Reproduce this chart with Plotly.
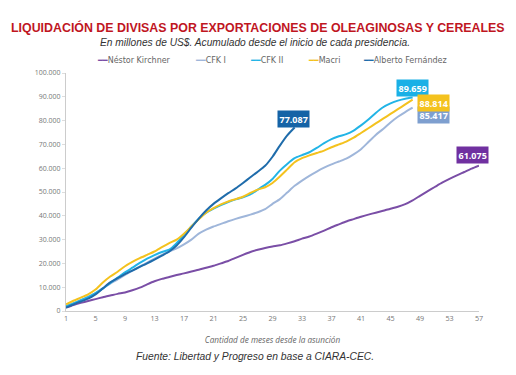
import plotly.graph_objects as go

# Accumulated FX liquidation (millions of US$) by month since inauguration
nestor = [1400, 2500, 3400, 4200, 5000, 5800, 6500, 7200, 7800, 8700, 9800, 11200, 12500, 13500,
          14300, 15100, 15800, 16600, 17300, 18200, 19000, 20000, 21000, 22300, 23600, 24800, 25700,
          26500, 27100, 27600, 28400, 29300, 30400, 31300, 32500, 33800, 35200, 36400, 37600, 38600,
          39600, 40500, 41300, 42100, 43000, 43800, 44900, 46500, 48400, 50300, 52100, 53900, 55500,
          57000, 58400, 59800, 61075]
cfk1 = [2000, 3300, 4500, 6000, 7500, 9500, 11500, 13300, 15200, 17000, 18700, 20300, 22000, 23600,
        25000, 26300, 28000, 30000, 32500, 34200, 35500, 36600, 37700, 38700, 39600, 40500, 41500,
        42800, 45000, 47000, 49800, 52600, 54800, 56800, 58600, 60200, 61600, 62800, 64000, 65800,
        68000, 71000, 74000, 76500, 79200, 81600, 83600, 85417]
cfk2 = [2000, 3200, 4500, 5800, 7500, 9500, 11800, 14000, 16200, 18200, 20200, 22000, 23500, 24800,
        25800, 28500, 32000, 35500, 38800, 41300, 43000, 44500, 45800, 46900, 47800, 49000, 51000,
        53000, 55500, 59000, 61800, 64200, 65500, 66700, 68500, 70500, 72200, 73400, 74300, 75800,
        78000, 80500, 83200, 85600, 87200, 88400, 89200, 89659]
macri = [2800, 4300, 5600, 7000, 9000, 12000, 14500, 16500, 18800, 20600, 22200, 23600, 25000, 26800,
         28500, 30000, 32500, 35500, 38500, 41300, 43200, 44800, 46000, 47000, 48000, 49600, 51000,
         52000, 53800, 56500, 59500, 62500, 64200, 65400, 66400, 67400, 68800, 70000, 71200, 72800,
         74800, 76800, 78800, 80800, 82800, 84800, 86800, 88814]
alberto = [1400, 2800, 4000, 5200, 7000, 9500, 12000, 13800, 15500, 17000, 18500, 20000, 21600, 23300,
           25000, 27500, 31000, 35000, 38800, 42200, 45000, 47300, 49500, 51500, 53800, 56200, 58500,
           61000, 64800, 69500, 73800, 77087]

series_names = ["Néstor Kirchner", "CFK I", "CFK II", "Macri", "Alberto Fernández"]
series_values = [nestor, cfk1, cfk2, macri, alberto]
line_colors = ["#7a4ea6", "#9fb6da", "#22b4e6", "#f4c21e", "#1f6cab"]
label_colors = ["#7030a0", "#7e9fcf", "#1ab0e6", "#f4c21e", "#1563a6"]
label_shift = [(-7, 11), (21, -7), (0, 10), (21, -3), (-1, 9)]
legend_x = [0.07, 0.307, 0.44, 0.581, 0.714]

x_ticks = list(range(1, 58, 4))
y_ticks = list(range(0, 100001, 10000))

fig = go.Figure()
for name, vals, col in zip(series_names, series_values, line_colors):
    fig.add_trace(go.Scatter(
        x=list(range(1, len(vals) + 1)), y=vals, mode="lines", name=name,
        line=dict(color=col, width=2, shape="spline", smoothing=0.6),
        hoverinfo="skip", showlegend=False))

annotations = []
for vals, col, (dx, dy) in zip(series_values, label_colors, label_shift):
    annotations.append(dict(
        x=len(vals), y=vals[-1], xref="x", yref="y",
        text="<b>" + f"{vals[-1]:,}".replace(",", ".") + "</b>",
        showarrow=False, bgcolor=col, borderpad=1.5,
        font=dict(family="Open Sans", size=9, color="white"),
        xshift=dx, yshift=dy))

# legend entries (line sample + name)
for name, col, lx in zip(series_names, line_colors, legend_x):
    annotations.append(dict(
        x=lx, y=1.053, xref="paper", yref="paper", showarrow=False,
        xanchor="left", yanchor="middle",
        text=f"<span style='color:{col}'>━━</span>{name}",
        font=dict(family="DejaVu Sans", size=8, color="#666666")))

annotations += [
    dict(text="<b>LIQUIDACIÓN DE DIVISAS POR EXPORTACIONES DE OLEAGINOSAS Y CEREALES</b>",
         x=0.465, y=1.19, xref="paper", yref="paper", showarrow=False,
         xanchor="center", yanchor="middle",
         font=dict(family="Liberation Sans", size=12.4, color="#c0161f")),
    dict(text="En millones de US$. Acumulado desde el inicio de cada presidencia.",
         x=0.458, y=1.128, xref="paper", yref="paper", showarrow=False,
         xanchor="center", yanchor="middle",
         font=dict(family="Liberation Sans", size=10.2, color="#333333", style="italic")),
    dict(text="Fuente: Libertad y Progreso en base a CIARA-CEC.",
         x=0.457, y=-0.19, xref="paper", yref="paper", showarrow=False,
         xanchor="center", yanchor="middle",
         font=dict(family="Liberation Sans", size=10.3, color="#333333", style="italic")),
]

fig.update_layout(
    width=508, height=367,
    margin=dict(l=58, r=37, t=65, b=64),
    paper_bgcolor="white", plot_bgcolor="white",
    separators=",.",
    showlegend=False,
    annotations=annotations,
    xaxis=dict(range=[1, 57], tickvals=x_ticks, showgrid=False, zeroline=False,
               showline=True, linecolor="#cccccc", linewidth=1,
               ticks="", tickfont=dict(family="Open Sans", size=7.2, color="#777777"),
               title=dict(text="Cantidad de meses desde la asunción", standoff=15,
                          font=dict(family="Open Sans", size=8.2, color="#666666", style="italic"))),
    yaxis=dict(range=[0, 100000], tickvals=y_ticks, tickformat=",.0f", showgrid=False,
               zeroline=False, showline=True, linecolor="#cccccc", linewidth=1,
               ticks="outside", ticklen=3, tickcolor="#dddddd",
               tickfont=dict(family="Open Sans", size=7, color="#777777")),
)

fig.write_html("out.html")
